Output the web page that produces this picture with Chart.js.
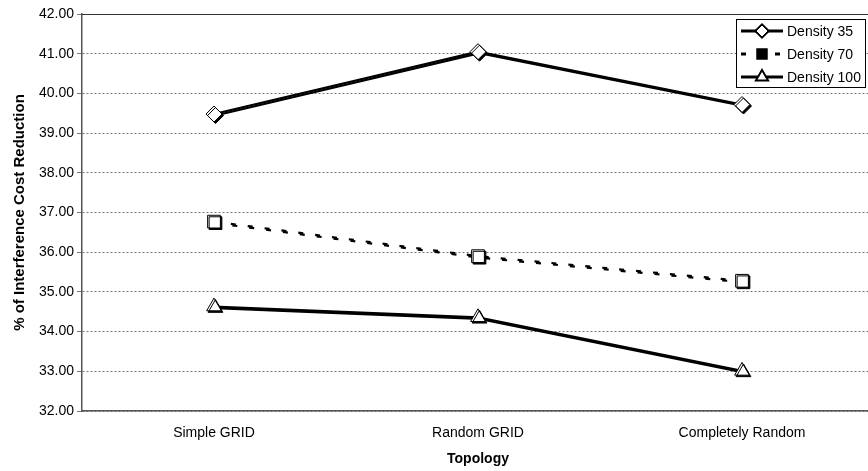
<!DOCTYPE html>
<html>
<head>
<meta charset="utf-8">
<script src="https://cdn.jsdelivr.net/npm/chart.js@4/dist/chart.umd.min.js"></script>
<style>
  html, body { margin: 0; padding: 0; background: #fff; overflow: hidden; }
  #wrap { width: 884px; height: 471px; position: relative; }
</style>
</head>
<body>
<div id="wrap"><canvas id="chart"></canvas></div>
<script>
// chart data
const topologies = ['Simple GRID', 'Random GRID', 'Completely Random'];
const density35 = [39.48, 41.05, 39.72];
const density70 = [36.77, 35.90, 35.28];
const density100 = [34.63, 34.36, 33.01];
const seriesNames = ['Density 35', 'Density 70', 'Density 100'];

const FONT = "'Liberation Sans', Arial, sans-serif";

// black drop shadow like the old Excel markers
const shadowPlugin = {
  id: 'shadow',
  beforeDatasetDraw(chart) {
    const c = chart.ctx;
    c.save();
    c.shadowColor = '#000';
    c.shadowOffsetX = 1.5;
    c.shadowOffsetY = 1.5;
    c.shadowBlur = 0;
  },
  afterDatasetDraw(chart) { chart.ctx.restore(); }
};

// top frame line + boxed legend with line/marker samples
const framePlugin = {
  id: 'frame',
  afterDraw(chart) {
    const c = chart.ctx, a = chart.chartArea;
    c.save();
    c.strokeStyle = '#333';
    c.lineWidth = 1;
    c.beginPath();
    c.moveTo(a.left, a.top + 0.5);
    c.lineTo(a.right, a.top + 0.5);
    c.stroke();

    const bx = 736.5, by = 19.5, bw = 129, bh = 68;
    c.fillStyle = '#fff';
    c.strokeStyle = '#000';
    c.fillRect(bx, by, bw, bh);
    c.strokeRect(bx, by, bw, bh);
    c.font = '14px ' + FONT;
    c.textBaseline = 'middle';
    const rows = [31, 54, 77];
    chart.data.datasets.forEach((ds, i) => {
      const y = rows[i];
      c.strokeStyle = '#000';
      c.lineWidth = 3;
      c.setLineDash(ds.borderDash || []);
      c.beginPath();
      c.moveTo(741, y);
      c.lineTo(783, y);
      c.stroke();
      c.setLineDash([]);
      Chart.helpers.drawPoint(c, {
        pointStyle: ds.pointStyle, radius: 6, borderWidth: 1, rotation: 0
      }, 762, y);
      c.fillStyle = i === 1 ? '#000' : '#fff';
      c.fill();
      c.lineWidth = 1;
      c.stroke();
      c.fillStyle = '#000';
      c.fillText(ds.label, 787, y + 1);
    });
    c.restore();
  }
};

new Chart(document.getElementById('chart'), {
  type: 'line',
  data: {
    labels: topologies,
    datasets: [
      { label: seriesNames[0], data: density35, borderColor: '#000', borderWidth: 2.2,
        pointStyle: 'rectRot', pointRadius: 8, pointBackgroundColor: '#fff',
        pointBorderColor: '#000', pointBorderWidth: 1 },
      { label: seriesNames[1], data: density70, borderColor: '#000', borderWidth: 2.2,
        borderDash: [5, 12],
        pointStyle: 'rect', pointRadius: 9, pointBackgroundColor: '#fff',
        pointBorderColor: '#000', pointBorderWidth: 1 },
      { label: seriesNames[2], data: density100, borderColor: '#000', borderWidth: 2.2,
        pointStyle: 'triangle', pointRadius: 8.5, pointBackgroundColor: '#fff',
        pointBorderColor: '#000', pointBorderWidth: 1 }
    ]
  },
  options: {
    responsive: true,
    maintainAspectRatio: false,
    animation: false,
    layout: { padding: { top: 14, right: 4, left: 0, bottom: 0 } },
    plugins: { legend: { display: false }, tooltip: { enabled: false } },
    scales: {
      x: {
        offset: true,
        grid: { display: false, drawTicks: false },
        border: { display: true, color: '#555', width: 1.5 },
        ticks: { color: '#000', font: { family: FONT, size: 14 }, padding: 14, maxRotation: 0 },
        title: { display: true, text: 'Topology', color: '#000',
                 font: { family: FONT, size: 14, weight: 'bold' }, padding: { top: 3, bottom: 3 } },
        afterFit(s) { s.height = 60; }
      },
      y: {
        min: 32, max: 42,
        ticks: { stepSize: 1, color: '#000', font: { family: FONT, size: 14 }, padding: 3,
                 callback: v => v.toFixed(2) },
        grid: { color: '#777', lineWidth: 1, tickLength: 5 },
        border: { display: true, color: '#555', width: 1.5, dash: [2, 2] },
        title: { display: true, text: '% of Interference Cost Reduction', color: '#000',
                 font: { family: FONT, size: 15, weight: 'bold' }, padding: { top: 11, bottom: 0 } },
        afterFit(s) { s.width = 82; }
      }
    }
  },
  plugins: [shadowPlugin, framePlugin]
});
</script>
</body>
</html>
